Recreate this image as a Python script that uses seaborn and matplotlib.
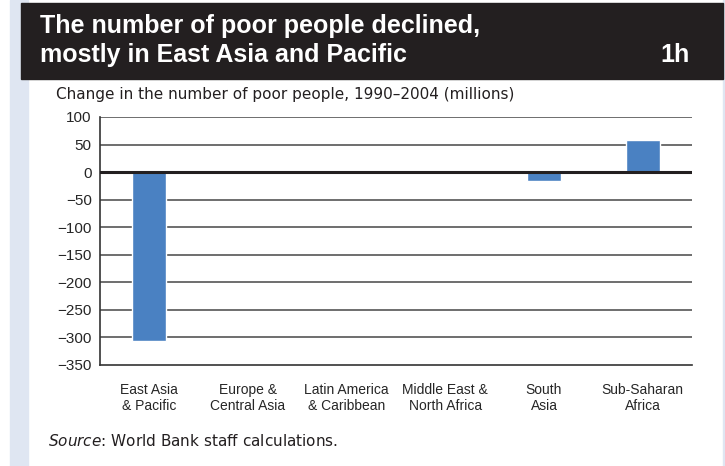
import pandas as pd
import numpy as np
import matplotlib.pyplot as plt
import seaborn as sns
from matplotlib.patches import Rectangle

regions = ["East Asia\n& Pacific", "Europe &\nCentral Asia", "Latin America\n& Caribbean",
           "Middle East &\nNorth Africa", "South\nAsia", "Sub-Saharan\nAfrica"]
change = [-306, 0, 0, 0, -16, 58]
yticks = [100, 50, 0, -50, -100, -150, -200, -250, -300, -350]

df = pd.DataFrame({"region": regions, "change": change})

sns.set_style("white")
plt.rcParams['font.family'] = ['Liberation Sans', 'DejaVu Sans']

fig = plt.figure(figsize=(7.25, 4.66), dpi=100)

# side stripes and title banner
fig.patches.append(Rectangle((10/725, 0), 18/725, 1, transform=fig.transFigure,
                             color="#dfe6f2", zorder=0))
fig.patches.append(Rectangle((723/725, 0), 2/725, 1, transform=fig.transFigure,
                             color="#dfe6f2", zorder=0))
fig.patches.append(Rectangle((21/725, 1 - 79/466), 702/725, 76/466, transform=fig.transFigure,
                             color="#231f20", zorder=1))
fig.text(40/725, 1 - 33/466, "The number of poor people declined,",
         color="white", fontsize=18, fontweight="bold", va="baseline", ha="left")
fig.text(40/725, 1 - 62/466, "mostly in East Asia and Pacific",
         color="white", fontsize=18, fontweight="bold", va="baseline", ha="left")
fig.text(690/725, 1 - 62/466, "1h", color="white", fontsize=18, fontweight="bold",
         va="baseline", ha="right")
fig.text(56/725, 1 - 95/466, "Change in the number of poor people, 1990\u20132004 (millions)",
         fontsize=11, va="center", ha="left", color="#231f20", family="DejaVu Sans")
fig.text(48/725, 1 - 441/466, r"$\it{Source}$" + ": World Bank staff calculations.",
         fontsize=11, va="center", ha="left", color="#231f20", family="DejaVu Sans")

ax = fig.add_axes([100/725, 1 - 365/466, 592/725, 248/466])
sns.barplot(data=df, x="region", y="change", color="#4a81c2", width=0.345,
            saturation=1, ax=ax, zorder=3)

ax.set_ylim(-350, 100)
ax.set_yticks(yticks)
ax.set_yticklabels([str(v).replace("-", "\u2212") for v in yticks], fontsize=11)
for v in yticks:
    if v == 0:
        ax.axhline(v, color="#231f20", lw=2.2, zorder=4)
    elif v != -350:
        ax.axhline(v, color="#555555", lw=1.2, zorder=1)
ax.set_xlabel("")
ax.set_ylabel("")
ax.tick_params(axis="x", labelsize=10, length=0, pad=13)
ax.tick_params(axis="y", length=0, pad=6)
for lbl in ax.get_xticklabels():
    lbl.set_linespacing(1.15)
for s in ["top", "right"]:
    ax.spines[s].set_visible(False)
for s in ["left", "bottom"]:
    ax.spines[s].set_color("#333333")
    ax.spines[s].set_linewidth(1.2)

fig.savefig("out.png", dpi=100)
